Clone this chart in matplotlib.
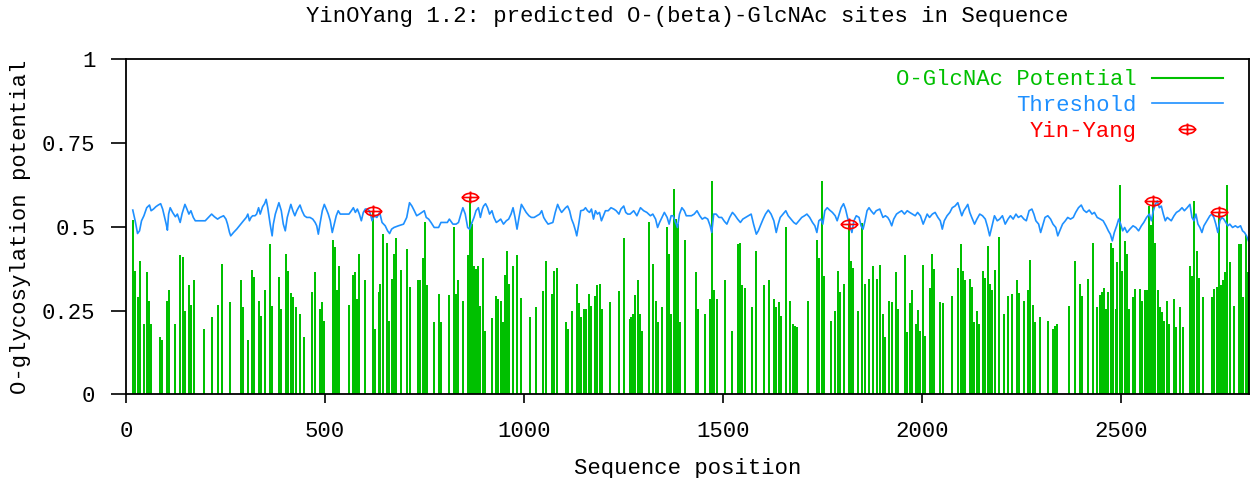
import numpy as np
import matplotlib
matplotlib.use('Agg')
import matplotlib.pyplot as plt
from matplotlib.path import Path
from matplotlib.lines import Line2D

# Potentiel O-GlcNAc (impulsions)
site_pos = [18, 23, 29, 35, 45, 52, 57, 63, 85, 91, 102, 108, 124, 136, 142, 148, 158, 163, 171, 197,
            215, 230, 242, 260, 288, 295, 306, 317, 322, 333, 339, 350, 362, 367, 384, 389, 402, 408, 414, 420,
            426, 436, 446, 468, 475, 486, 492, 498, 519, 524, 531, 536, 559, 570, 576, 581, 586, 599, 621, 626,
            636, 638, 645, 655, 661, 668, 673, 678, 690, 706, 712, 733, 739, 745, 751, 757, 773, 785, 791, 812,
            823, 829, 835, 846, 858, 863, 869, 874, 880, 885, 890, 896, 902, 919, 930, 935, 941, 946, 952, 957,
            963, 971, 981, 993, 1014, 1030, 1048, 1054, 1069, 1075, 1083, 1104, 1110, 1121, 1132, 1138, 1143, 1150, 1156, 1162,
            1167, 1178, 1184, 1190, 1196, 1216, 1239, 1250, 1265, 1268, 1273, 1279, 1285, 1291, 1297, 1313, 1324, 1330, 1336, 1347,
            1359, 1364, 1369, 1375, 1380, 1386, 1392, 1403, 1431, 1436, 1453, 1466, 1472, 1477, 1483, 1504, 1521, 1537, 1543, 1548,
            1554, 1572, 1583, 1601, 1616, 1628, 1633, 1639, 1646, 1658, 1668, 1674, 1680, 1686, 1713, 1735, 1741, 1747, 1753, 1771,
            1781, 1787, 1793, 1804, 1815, 1820, 1826, 1838, 1849, 1855, 1866, 1877, 1887, 1893, 1900, 1905, 1917, 1923, 1934, 1940,
            1957, 1962, 1968, 1974, 1983, 1989, 1995, 2001, 2007, 2018, 2023, 2029, 2045, 2051, 2074, 2090, 2096, 2102, 2108, 2119,
            2124, 2130, 2136, 2141, 2153, 2158, 2164, 2170, 2176, 2182, 2193, 2204, 2215, 2226, 2237, 2243, 2254, 2266, 2271, 2277,
            2283, 2295, 2315, 2327, 2333, 2339, 2367, 2384, 2395, 2400, 2417, 2428, 2439, 2445, 2451, 2457, 2462, 2467, 2473, 2479,
            2485, 2490, 2496, 2502, 2508, 2513, 2519, 2529, 2535, 2546, 2552, 2558, 2563, 2569, 2574, 2580, 2585, 2591, 2597, 2603,
            2608, 2614, 2620, 2631, 2637, 2648, 2654, 2671, 2677, 2683, 2689, 2694, 2705, 2727, 2733, 2739, 2745, 2750, 2756, 2761,
            2766, 2772, 2783, 2794, 2800, 2806, 2812, 2817]
potential = [.52, .369, .29, .397, .21, .364, .28, .21, .17, .163, .28, .312, .21, .417, .41, .248, .325, .268, .34, .195,
             .23, .268, .39, .275, .34, .26, .163, .37, .35, .28, .235, .312, .448, .265, .35, .255, .42, .369, .302, .29,
             .26, .24, .17, .305, .364, .255, .275, .22, .46, .44, .312, .384, .268, .356, .364, .285, .42, .34, .548, .195,
             .305, .33, .48, .453, .22, .344, .42, .466, .37, .435, .32, .34, .34, .408, .513, .325, .215, .299, .215, .295,
             .50, .299, .34, .28, .417, .589, .508, .384, .374, .384, .265, .408, .188, .227, .292, .285, .28, .215, .356, .427,
             .33, .384, .417, .288, .23, .26, .308, .397, .299, .369, .377, .215, .195, .248, .33, .272, .23, .255, .255, .299,
             .265, .292, .325, .33, .255, .275, .308, .468, .225, .23, .24, .295, .34, .24, .19, .513, .39, .28, .215, .26,
             .50, .42, .24, .612, .522, .508, .215, .46, .364, .255, .24, .285, .637, .312, .285, .34, .19, .448, .453, .325,
             .318, .26, .427, .325, .34, .285, .26, .275, .235, .50, .28, .21, .205, .20, .28, .46, .408, .637, .354, .22,
             .25, .369, .305, .33, .509, .398, .378, .248, .51, .33, .344, .384, .344, .387, .24, .17, .28, .275, .364, .255,
             .417, .185, .272, .312, .21, .252, .19, .387, .175, .318, .42, .374, .275, .272, .292, .377, .448, .369, .34, .344,
             .32, .215, .25, .21, .368, .348, .443, .33, .31, .37, .47, .24, .292, .298, .34, .302, .28, .312, .40, .268,
             .215, .23, .22, .195, .205, .21, .265, .397, .33, .292, .344, .453, .262, .295, .305, .318, .255, .305, .453, .438,
             .255, .394, .625, .369, .458, .42, .255, .29, .315, .315, .28, .31, .312, .563, .505, .577, .453, .31, .26, .245,
             .22, .28, .21, .285, .20, .26, .20, .384, .354, .577, .427, .348, .29, .29, .315, .32, .545, .325, .34, .364,
             .625, .394, .265, .45, .448, .29, .475, .364]

# Seuil
thr_pos = [17, 23, 29, 34, 39, 45, 52, 59, 63, 69, 75, 81, 87, 92, 96, 101, 104, 107, 111, 117, 124, 129, 136, 141, 148,
           153, 158, 163, 169, 174, 186, 199, 207, 215, 222, 230, 236, 245, 251, 255, 260, 263, 270, 278, 288, 295, 302, 306, 310,
           314, 318, 324, 328, 333, 337, 343, 348, 352, 356, 362, 367, 370, 375, 380, 384, 390, 395, 400, 405, 410, 414, 419, 424,
           429, 433, 437, 442, 448, 454, 462, 469, 475, 479, 483, 487, 493, 498, 503, 508, 513, 518, 523, 528, 533, 538, 544, 553,
           560, 566, 571, 576, 581, 586, 591, 596, 601, 606, 611, 615, 618, 623, 630, 637,
           643, 651, 657, 662, 667, 673, 684, 697, 705, 712, 718, 724, 730, 737, 743, 749, 754, 760, 766, 774, 785, 791, 799,
           807, 812, 821, 829, 835, 841, 846, 852, 858, 863, 869, 874, 879, 885, 890, 895, 898, 903, 908, 913, 919, 924, 930, 936,
           941, 948, 955, 961, 967, 972, 977, 982, 987, 993, 998, 1005, 1012, 1018, 1025, 1032, 1039, 1044, 1049, 1054, 1060, 1065,
           1072, 1078, 1084, 1089, 1094, 1099, 1104, 1109, 1114, 1119, 1124, 1129, 1132, 1137, 1142, 1149, 1154, 1159, 1164, 1169,
           1174, 1179, 1184, 1189, 1194, 1199, 1204, 1211, 1218, 1225, 1231, 1238, 1243, 1250, 1255, 1260, 1266,
           1275, 1283, 1292, 1300, 1308, 1317, 1323, 1330, 1335, 1340, 1346, 1352, 1359, 1364, 1369, 1374, 1379, 1385, 1390, 1396,
           1402, 1407, 1414, 1420, 1427, 1434, 1441, 1447, 1454, 1461, 1467, 1471, 1476, 1482, 1489, 1496, 1503, 1509, 1516, 1523,
           1529, 1536, 1543, 1549, 1556, 1563, 1570, 1576, 1583, 1588, 1593, 1600, 1606, 1613, 1620, 1627, 1633, 1638, 1643, 1650,
           1657, 1663, 1670, 1677, 1683, 1690, 1697, 1704, 1710, 1717, 1724, 1730, 1735, 1740, 1745, 1750, 1755, 1761, 1767, 1774,
           1781, 1786, 1791, 1796, 1802, 1807, 1812, 1817, 1823, 1828, 1834, 1841, 1846, 1851, 1856, 1861, 1866, 1871, 1878, 1884,
           1893, 1901, 1907, 1913, 1918, 1923, 1928, 1935, 1941, 1948, 1955, 1962, 1968, 1975, 1982, 1988, 1995, 2002, 2007, 2012,
           2018, 2025, 2032, 2039, 2045, 2050, 2055, 2062, 2069, 2075, 2082, 2089, 2094, 2099, 2104, 2109, 2114, 2119, 2124, 2131,
           2137, 2144, 2151, 2158, 2164, 2169, 2174, 2181, 2188, 2194, 2201, 2208, 2215, 2221, 2228, 2235, 2241, 2248, 2255, 2261,
           2268, 2275, 2280, 2285, 2292, 2297, 2302, 2308, 2315, 2322, 2328, 2335, 2340, 2345, 2352, 2359, 2365, 2372, 2379, 2385,
           2392, 2399, 2405, 2412, 2419, 2426, 2432, 2439, 2447, 2454, 2461, 2467, 2472, 2477, 2482, 2488, 2493, 2498, 2503, 2508,
           2514, 2521, 2529, 2536, 2543, 2550, 2556, 2563, 2570, 2575, 2580, 2585, 2590, 2595, 2600, 2605, 2610, 2615, 2620, 2625,
           2632, 2638, 2645, 2652, 2658, 2665, 2672, 2677, 2682, 2687, 2692, 2697, 2702, 2707, 2712, 2717, 2722, 2727, 2732, 2737,
           2742, 2747, 2752, 2757, 2762, 2767, 2772, 2779, 2786, 2792, 2799, 2804, 2809, 2814, 2819]
threshold = [.550, .518, .480, .488, .518, .533, .557, .565, .548, .553, .560, .565, .569, .553, .533, .508, .490, .538, .557, .543,
             .530, .538, .513, .540, .567, .553, .538, .548, .528, .518, .518, .518, .528, .538, .530, .523, .528, .533, .523, .508,
             .483, .473, .483, .493, .508, .518, .528, .538, .518, .528, .533, .533, .538, .557, .538, .560, .569, .582, .557, .508,
             .473, .508, .538, .557, .572, .548, .508, .488, .528, .550, .567, .548, .533, .548, .557, .565, .548, .533, .528, .528,
             .523, .513, .503, .478, .508, .548, .567, .553, .538, .518, .483, .508, .533, .548, .538, .538, .538, .538, .548, .557,
             .543, .553, .538, .518, .543, .553, .553, .548, .533, .518, .533, .528, .543,
             .513, .503, .488, .480, .493, .498, .503, .508, .528, .572, .562, .548, .533, .538, .543, .548, .528, .523, .513, .498,
             .498, .513, .513, .513, .523, .508, .508, .513, .538, .557, .538, .498, .493, .513, .528, .548, .557, .528, .553, .562,
             .569, .557, .538, .548, .528, .513, .518, .523, .508, .518, .523, .538, .557, .528, .493, .528, .567, .557, .543, .533,
             .528, .528, .533, .538, .548, .528, .518, .508, .510, .513, .543, .567, .553, .543, .550, .557, .562, .548, .523, .508,
             .488, .473, .508, .548, .550, .557, .548, .543, .553, .523, .548, .538, .543, .518, .533, .548, .548, .557, .553, .548,
             .538, .553, .562, .543, .538, .538,
             .548, .533, .557, .548, .543, .533, .538, .523, .498, .513, .528, .543, .528, .508, .533, .533, .516, .498, .538, .557,
             .548, .533, .533, .533, .538, .548, .533, .523, .528, .523, .503, .483, .538, .538, .528, .528, .516, .508, .528, .543,
             .535, .523, .513, .523, .528, .533, .538, .508, .478, .488, .503, .523, .538, .550, .538, .518, .483, .508, .528, .538,
             .548, .533, .523, .513, .508, .518, .528, .533, .538, .528, .513, .503, .483, .518, .523, .508, .548, .557, .550, .543,
             .533, .518, .538, .557, .569, .553, .528, .508, .483, .518, .533, .528, .503, .493, .518, .548, .557, .548, .538, .548,
             .553, .528, .533, .528, .518, .503, .523, .538, .543, .548, .538, .548, .543, .538, .533, .543, .533, .508, .523, .538,
             .528, .538, .543, .528, .518, .493, .518, .533, .543, .557, .562, .572, .553, .533, .548, .557, .567, .543, .528, .508,
             .523, .538, .533, .523, .498, .473, .498, .533, .518, .523, .533, .508, .523, .533, .523, .538, .528, .533, .523, .518,
             .548, .553, .538, .518, .508, .483, .503, .528, .533, .523, .508, .498, .473, .488, .508, .518, .528, .523, .528, .543,
             .557, .565, .550, .543, .550, .538, .543, .528, .523, .518, .503, .488, .478, .458, .483, .503, .523, .508, .488, .498,
             .483, .493, .503, .498, .488, .503, .513, .528, .538, .518, .548, .567, .577, .557, .562, .538, .518, .528, .523, .518,
             .533, .543, .548, .557, .548, .557, .567, .528, .518, .538, .508, .498, .483, .503, .513, .523, .533, .538, .528, .508,
             .483, .518, .528, .523, .513, .503, .508, .498, .503, .498, .503, .488, .483, .473, .458]

# Sites Yin-Yang
yy_pos = [621, 863, 1815, 2580, 2745]
yy_val = [.548, .589, .509, .577, .545]

green = '#00c000'
blue = '#1e90ff'
red = '#ff0000'

plt.rcParams['font.family'] = ['Liberation Mono', 'DejaVu Sans Mono']
plt.rcParams['font.size'] = 16

fig = plt.figure(figsize=(12.5, 4.78), dpi=100)
ax = fig.add_axes([0.1008, 0.1751, 0.898, 0.7008])

ax.vlines(site_pos, 0, potential, color=green, linewidth=1.1, antialiased=False)
thr_line, = ax.plot(thr_pos, threshold, color=blue, linewidth=1.2)

# cercle aplati avec une croix, comme le point de gnuplot
t = np.linspace(0, 2 * np.pi, 41)
verts = [(np.cos(a), 0.55 * np.sin(a)) for a in t] + [(-1.2, 0), (1.2, 0), (0, -0.8), (0, 0.8)]
codes = [Path.MOVETO] + [Path.LINETO] * 40 + [Path.MOVETO, Path.LINETO, Path.MOVETO, Path.LINETO]
yy_marker = Path(verts, codes)
yy_line, = ax.plot(yy_pos, yy_val, linestyle='none', marker=yy_marker, markersize=13,
                   markerfacecolor='none', markeredgecolor=red, markeredgewidth=1.2)

ax.set_xlim(0, 2819)
ax.set_ylim(0, 1)
ax.set_xticks([0, 500, 1000, 1500, 2000, 2500])
ax.set_yticks([0, 0.25, 0.5, 0.75, 1])
ax.set_yticklabels(['0', '0.25', '0.5', '0.75', '1'])
ax.tick_params(axis='x', direction='out', length=6.5, width=1.2, pad=13)
ax.tick_params(axis='y', direction='out', length=11, width=1.2, pad=11)
for s in ax.spines.values():
    s.set_linewidth(1.3)

ax.set_title('YinOYang 1.2: predicted O-(beta)-GlcNAc sites in Sequence', fontsize=16, pad=27)
ax.set_xlabel('Sequence position')
ax.set_ylabel('O-glycosylation potential')
ax.xaxis.set_label_coords(0.5, -0.19)
ax.yaxis.set_label_coords(-0.085, 0.5)

green_proxy = Line2D([], [], color=green, linewidth=1.5)
leg = ax.legend([green_proxy, thr_line, yy_line], ['O-GlcNAc Potential', 'Threshold', 'Yin-Yang'],
                loc='upper right', bbox_to_anchor=(0.977, 0.97), frameon=False, markerfirst=False,
                handlelength=3.2, handletextpad=0.68, labelspacing=0.22, borderpad=0, borderaxespad=0,
                numpoints=1)
for txt, c in zip(leg.get_texts(), [green, blue, red]):
    txt.set_color(c)

fig.savefig('out.png', dpi=100)
